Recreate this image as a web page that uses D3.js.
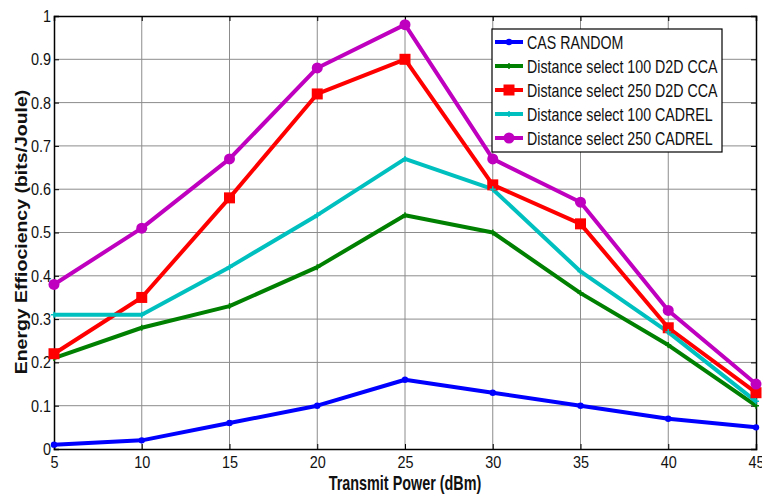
<!DOCTYPE html>
<html>
<head>
<meta charset="utf-8">
<script src="https://cdn.jsdelivr.net/npm/d3@7"></script>
<style>
  body { margin: 0; background: #fff; }
  svg { display: block; font-family: "Liberation Sans", Arial, sans-serif; }
  .grid line { stroke: #8c8c8c; stroke-width: 1; }
</style>
</head>
<body>
<svg id="chart" width="762" height="494"></svg>
<script>
// Chart values
const powers = [5, 10, 15, 20, 25, 30, 35, 40, 45];
const casRandom = [0.01, 0.02, 0.06, 0.10, 0.16, 0.13, 0.10, 0.07, 0.05];
const dist100D2D = [0.21, 0.28, 0.33, 0.42, 0.54, 0.50, 0.36, 0.24, 0.10];
const dist250D2D = [0.22, 0.35, 0.58, 0.82, 0.90, 0.61, 0.52, 0.28, 0.13];
const dist100Cadrel = [0.31, 0.31, 0.42, 0.54, 0.67, 0.60, 0.41, 0.27, 0.11];
const dist250Cadrel = [0.38, 0.51, 0.67, 0.88, 0.98, 0.67, 0.57, 0.32, 0.15];
const seriesNames = ["CAS RANDOM", "Distance select 100 D2D CCA", "Distance select 250 D2D CCA",
  "Distance select 100 CADREL", "Distance select 250 CADREL"];
const yTicks = [0, 0.1, 0.2, 0.3, 0.4, 0.5, 0.6, 0.7, 0.8, 0.9, 1];

const series = [
  { name: seriesNames[0], values: casRandom, color: "#0000ff", marker: "dot" },
  { name: seriesNames[1], values: dist100D2D, color: "#008000", marker: "plus" },
  { name: seriesNames[2], values: dist250D2D, color: "#ff0000", marker: "square" },
  { name: seriesNames[3], values: dist100Cadrel, color: "#00bfbf", marker: "plus" },
  { name: seriesNames[4], values: dist250Cadrel, color: "#bf00bf", marker: "circle" }
];

// the figure looks squeezed sideways, so text is narrowed a bit
const tickScale = 0.85;

const margin = { top: 16, right: 6, bottom: 45, left: 54 };
const width = 762 - margin.left - margin.right;
const height = 494 - margin.top - margin.bottom;

const svg = d3.select("#chart");
const g = svg.append("g").attr("transform", `translate(${margin.left},${margin.top})`);

const x = d3.scaleLinear().domain([5, 45]).range([0, width]);
const y = d3.scaleLinear().domain([0, 1]).range([height, 0]);

// Grid
g.append("g").attr("class", "grid")
  .selectAll("line").data(yTicks.slice(1, -1)).enter().append("line")
  .attr("x1", 0).attr("x2", width)
  .attr("y1", d => y(d)).attr("y2", d => y(d));
g.append("g").attr("class", "grid")
  .selectAll("line").data(powers.slice(1, -1)).enter().append("line")
  .attr("y1", 0).attr("y2", height)
  .attr("x1", d => x(d)).attr("x2", d => x(d));

// Axes (ticks inward, like MATLAB)
const xAxis = g.append("g").attr("transform", `translate(0,${height})`)
  .call(d3.axisBottom(x).tickValues(powers).tickSize(-5).tickPadding(7).tickFormat(d3.format("d")));
const yAxis = g.append("g")
  .call(d3.axisLeft(y).tickValues(yTicks).tickSize(-5).tickPadding(3)
    .tickFormat(d => d === 0 ? "0" : d === 1 ? "1" : d3.format(".1f")(d)));
g.append("g")
  .call(d3.axisTop(x).tickValues(powers).tickSize(-5).tickFormat(""));
g.append("g").attr("transform", `translate(${width},0)`)
  .call(d3.axisRight(y).tickValues(yTicks).tickSize(-5).tickFormat(""));

g.selectAll(".domain").attr("stroke", "#000").attr("stroke-width", 1.5);
g.selectAll(".tick line").attr("stroke", "#000");
g.selectAll(".tick text").attr("font-size", 17).attr("fill", "#111")
  .attr("font-family", "'Liberation Sans', Arial, sans-serif");
xAxis.selectAll(".tick text").attr("transform", `scale(${tickScale},1)`);
yAxis.selectAll(".tick text").attr("x", -3 / tickScale).attr("transform", `scale(${tickScale},1)`);

// Lines
const line = d3.line().x((d, i) => x(powers[i])).y(d => y(d));
series.forEach(s => {
  g.append("path").datum(s.values)
    .attr("fill", "none").attr("stroke", s.color).attr("stroke-width", 4)
    .attr("stroke-linejoin", "round").attr("d", line);
});

function drawMarker(sel, s, cx, cy) {
  if (s.marker === "square") {
    sel.append("rect").attr("x", cx - 5.5).attr("y", cy - 5.5).attr("width", 11).attr("height", 11)
      .attr("fill", s.color);
  } else if (s.marker === "circle") {
    sel.append("circle").attr("cx", cx).attr("cy", cy).attr("r", 5.5).attr("fill", s.color);
  } else if (s.marker === "dot") {
    sel.append("circle").attr("cx", cx).attr("cy", cy).attr("r", 3.2).attr("fill", s.color);
  } else {
    sel.append("path").attr("d", `M${cx - 3},${cy}H${cx + 3}M${cx},${cy - 3}V${cy + 3}`)
      .attr("stroke", s.color).attr("stroke-width", 1.5);
  }
}

series.forEach(s => {
  const mg = g.append("g");
  s.values.forEach((v, i) => drawMarker(mg, s, x(powers[i]), y(v)));
});

// Legend
const legend = svg.append("g").attr("transform", "translate(492,29)");
legend.append("rect").attr("width", 230).attr("height", 123)
  .attr("fill", "#fff").attr("stroke", "#000").attr("stroke-width", 1.2);
series.forEach((s, i) => {
  const ly = 13 + i * 24;
  const item = legend.append("g");
  item.append("line").attr("x1", 3).attr("x2", 31).attr("y1", ly).attr("y2", ly)
    .attr("stroke", s.color).attr("stroke-width", 4);
  drawMarker(item, s, 17, ly);
  item.append("text").attr("transform", `translate(35,${ly + 6.5}) scale(0.79,1)`)
    .attr("font-size", 18).attr("fill", "#111").text(s.name);
});

// Axis labels
svg.append("text").attr("transform", "translate(405,490) scale(0.72,1)").attr("text-anchor", "middle")
  .attr("font-size", 20).attr("font-weight", "bold").attr("fill", "#111").text("Transmit Power (dBm)");
svg.append("text").attr("transform", "translate(27,232) rotate(-90) scale(1,0.85)").attr("text-anchor", "middle")
  .attr("font-size", 19.5).attr("font-weight", "bold").attr("fill", "#111").text("Energy Effiociency (bits/Joule)");
</script>
</body>
</html>
